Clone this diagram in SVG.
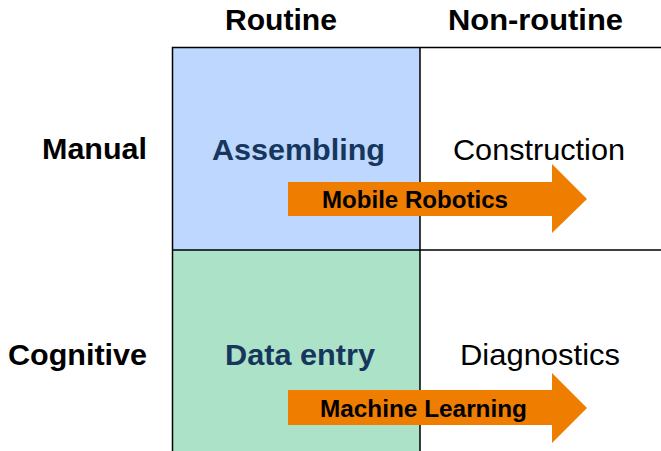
<svg xmlns="http://www.w3.org/2000/svg" width="661" height="451" viewBox="0 0 661 451">
<style>
.hdr{font-family:"Liberation Sans",Arial,sans-serif;font-weight:bold;font-size:29px;fill:#000}
.cell{font-family:"Liberation Sans",Arial,sans-serif;font-size:29px}
.dark{font-weight:bold;fill:#17365D}
.plain{fill:#000}
.arrtxt{font-family:"Liberation Sans",Arial,sans-serif;font-weight:bold;font-size:23px;fill:#000}
.arrow{fill:#EE7D00}
.grid{stroke:#000;stroke-width:1.5;fill:none}
</style>
<rect width="661" height="451" fill="#fff"/>
<g id="cell-assembling">
<rect x="172.5" y="47.5" width="247.5" height="202.5" fill="#BDD7FE"/>
<text class="cell dark" x="212" y="160" textLength="173" lengthAdjust="spacingAndGlyphs">Assembling</text>
</g>
<g id="cell-dataentry">
<rect x="172.5" y="250" width="247.5" height="205" fill="#ABE2C8"/>
<text class="cell dark" x="225" y="365" textLength="150" lengthAdjust="spacingAndGlyphs">Data entry</text>
</g>
<g id="cell-construction">
<text class="cell plain" x="453" y="160" textLength="172" lengthAdjust="spacingAndGlyphs">Construction</text>
</g>
<g id="cell-diagnostics">
<text class="cell plain" x="460" y="365" textLength="160" lengthAdjust="spacingAndGlyphs">Diagnostics</text>
</g>
<g id="grid">
<path class="grid" d="M172.5 455V47.5H661M420 47.5V455M172.5 250H661"/>
</g>
<g id="headers">
<text class="hdr" x="225" y="30" textLength="112" lengthAdjust="spacingAndGlyphs">Routine</text>
<text class="hdr" x="448" y="30" textLength="175" lengthAdjust="spacingAndGlyphs">Non-routine</text>
<text class="hdr" x="42" y="159" textLength="105" lengthAdjust="spacingAndGlyphs">Manual</text>
<text class="hdr" x="8" y="365" textLength="139" lengthAdjust="spacingAndGlyphs">Cognitive</text>
</g>
<g id="connectors">
<g id="arrow-mobile-robotics">
<polygon class="arrow" points="288,182 552,182 552,164 587,199 552,233 552,216 288,216"/>
<text class="arrtxt" x="322" y="208" textLength="186" lengthAdjust="spacingAndGlyphs">Mobile Robotics</text>
</g>
<g id="arrow-machine-learning">
<polygon class="arrow" points="288,390 552,390 552,373 587,408 552,443 552,425 288,425"/>
<text class="arrtxt" x="320" y="417" textLength="207" lengthAdjust="spacingAndGlyphs">Machine Learning</text>
</g>
</g>
</svg>
